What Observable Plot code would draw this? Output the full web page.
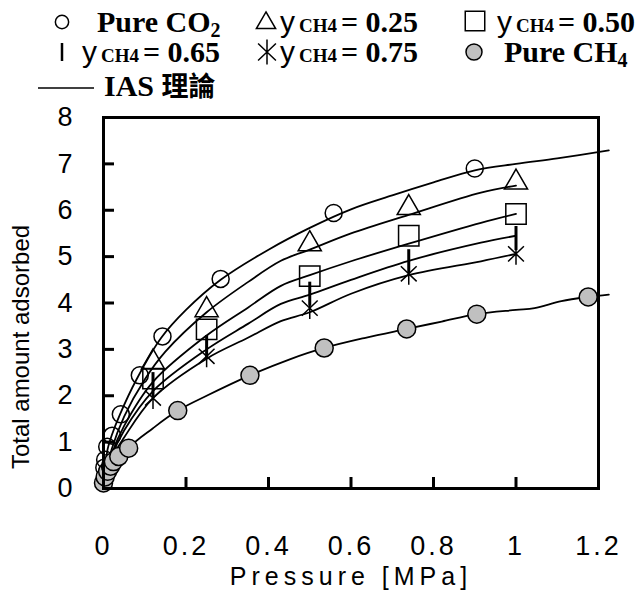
<!DOCTYPE html>
<html><head><meta charset="utf-8">
<script src="https://cdn.jsdelivr.net/npm/d3@7"></script>
<script src="https://cdn.jsdelivr.net/npm/@observablehq/plot@0.6"></script>
<style>
body{margin:0;background:#fff;}
#legend{position:relative;width:644px;height:100px;overflow:visible;font-family:"Liberation Serif","Times New Roman",serif;font-weight:bold;font-size:30px;color:#000;}
#legend .item{position:absolute;white-space:nowrap;line-height:28px;height:28px;}
#legend .y{font-family:"Liberation Sans",Arial,sans-serif;font-weight:normal;font-size:30px;margin-right:4px;}
#legend .sub{font-size:19px;margin-right:4px;}
#legend .ss{font-size:20px;position:relative;top:5px;}
#legend svg{position:absolute;left:0;top:0;}
</style></head><body>
<div id="legend"></div>
<div id="chart"></div>
<script>
// ---- data ----
const xTicks = [0, 0.2, 0.4, 0.6, 0.8, 1, 1.2];
const yTicks = [0, 1, 2, 3, 4, 5, 6, 7, 8];
const xLabel = "Pressure [MPa]";
const yLabel = "Total amount adsorbed";

const co2P = [0.002, 0.004, 0.009, 0.021, 0.042, 0.088, 0.143, 0.284, 0.558, 0.90];
const co2V = [0.45, 0.62, 0.9, 1.14, 1.6, 2.44, 3.28, 4.52, 5.94, 6.9];

const ch4P = [0.0, 0.004, 0.01, 0.017, 0.024, 0.037, 0.061, 0.18, 0.355, 0.535, 0.735, 0.905, 1.175];
const ch4V = [0.12, 0.25, 0.37, 0.48, 0.58, 0.69, 0.87, 1.68, 2.44, 3.03, 3.44, 3.76, 4.13];

const mixP = [0.12, 0.25, 0.5, 0.74, 1.0];
const mix25V = [2.72, 3.85, 5.27, 6.05, 6.6];
const mix50V = [2.37, 3.43, 4.58, 5.45, 5.92];
const mix65V = [2.25, 3.05, 4.2, 4.9, 5.4];
const mix75V = [1.95, 2.85, 3.89, 4.63, 5.06];

// IAS theory curves [pressure, amount]
const iasCO2 = [[0,0.1],[0.005,0.5],[0.01,0.85],[0.02,1.15],[0.04,1.6],[0.08,2.35],[0.14,3.25],[0.2,3.85],[0.284,4.5],[0.4,5.15],[0.5,5.62],[0.6,6.02],[0.7,6.32],[0.8,6.6],[0.9,6.86],[1.0,7.0],[1.1,7.12],[1.225,7.29]];
const ias25 = [[0,0.1],[0.02,0.85],[0.05,1.55],[0.1,2.35],[0.15,2.95],[0.25,3.8],[0.35,4.45],[0.43,4.91],[0.5,5.15],[0.6,5.5],[0.74,5.9],[0.915,6.38],[1.0,6.53]];
const ias50 = [[0,0.1],[0.02,0.75],[0.05,1.35],[0.12,2.3],[0.25,3.3],[0.35,3.9],[0.43,4.37],[0.5,4.6],[0.6,4.9],[0.74,5.28],[0.915,5.73],[1.0,5.92]];
const ias65 = [[0,0.1],[0.02,0.7],[0.05,1.25],[0.12,2.1],[0.25,3.0],[0.35,3.55],[0.43,3.98],[0.5,4.18],[0.6,4.5],[0.74,4.91],[0.915,5.3],[1.0,5.45]];
const ias75 = [[0,0.1],[0.02,0.65],[0.05,1.1],[0.12,1.95],[0.25,2.8],[0.35,3.25],[0.43,3.61],[0.5,3.8],[0.6,4.2],[0.74,4.6],[0.915,4.9],[1.0,5.06]];
const iasCH4 = [[0,0.05],[0.061,0.87],[0.12,1.3],[0.18,1.68],[0.25,2.0],[0.355,2.44],[0.45,2.78],[0.535,3.03],[0.635,3.25],[0.735,3.44],[0.82,3.6],[0.905,3.76],[1.0,3.85],[1.045,3.89],[1.11,4.04],[1.175,4.13],[1.225,4.18]];

// ---- helpers ----
const pts = (P, V) => P.map((p, i) => ({p, v: V[i]}));
const vbar = {draw(ctx, size) { const h = Math.sqrt(size) * 0.68; ctx.moveTo(0, -h); ctx.lineTo(0, h); }};
const star = {draw(ctx, size) {
  const L = Math.sqrt(size) * 0.62, dx = L * 0.72, dy = L * 0.69;
  ctx.moveTo(0, -L); ctx.lineTo(0, L);
  ctx.moveTo(-dx, -dy); ctx.lineTo(dx, dy);
  ctx.moveTo(-dx, dy); ctx.lineTo(dx, -dy);
}};
const sans = '"Liberation Sans", Arial, sans-serif';
const lineOpts = {x: d => d[0], y: d => d[1], curve: "catmull-rom", stroke: "black", strokeWidth: 1.8};
const plotH = 494, mT = 17, mB = 106, mL = 103, mR = 46;

const chart = Plot.plot({
  width: 644, height: plotH,
  marginTop: mT, marginBottom: mB, marginLeft: mL, marginRight: mR,
  style: {fontFamily: sans, background: "white", overflow: "visible"},
  x: {domain: [0, 1.2]},
  y: {domain: [0, 8]},
  marks: [
    Plot.line(iasCO2, lineOpts),
    Plot.line(ias25, lineOpts),
    Plot.line(ias50, lineOpts),
    Plot.line(ias65, lineOpts),
    Plot.line(ias75, lineOpts),
    Plot.line(iasCH4, lineOpts),
    Plot.dot(pts(co2P, co2V), {x: "p", y: "v", r: 8.5, stroke: "black", strokeWidth: 1.5, fill: "none"}),
    Plot.dot(pts(mixP, mix25V), {x: "p", y: "v", r: 8.6, symbol: "triangle", stroke: "black", strokeWidth: 1.5, fill: "none"}),
    Plot.dot(pts(mixP, mix50V), {x: "p", y: "v", r: 11.5, symbol: "square", stroke: "black", strokeWidth: 1.5, fill: "none"}),
    Plot.dot(pts(mixP, mix65V), {x: "p", y: "v", r: 10, symbol: vbar, stroke: "black", strokeWidth: 3, fill: "none"}),
    Plot.dot(pts(mixP, mix75V), {x: "p", y: "v", r: 10, symbol: star, stroke: "black", strokeWidth: 1.5, fill: "none"}),
    Plot.dot(pts(ch4P, ch4V), {x: "p", y: "v", r: 9, stroke: "black", strokeWidth: 1.5, fill: "#c0c0c0"}),
    Plot.frame({stroke: "black", strokeWidth: 3}),
    Plot.tickY(yTicks.slice(1, -1), {y: d => d, insetRight: 644 - mL - mR - 11, stroke: "black", strokeWidth: 3}),
    Plot.tickX(xTicks.slice(1, -1), {x: d => d, insetTop: plotH - mT - mB - 11, stroke: "black", strokeWidth: 3}),
    Plot.axisY(yTicks, {tickSize: 0, tickPadding: 31, fontSize: 27, label: null, tickFormat: d => String(d)}),
    Plot.axisX(xTicks, {tickSize: 0, tickPadding: 47, fontSize: 27, label: null, tickFormat: d => String(d)}),
    Plot.text([yLabel], {text: d => d, frameAnchor: "left", textAnchor: "middle", rotate: -90, dx: -82, dy: 44, fontSize: 24}),
    Plot.text([xLabel], {text: d => d, frameAnchor: "bottom", textAnchor: "middle", dy: 96, fontSize: 25})
  ]
});
chart.querySelectorAll('[aria-label="x-axis tick label"] text').forEach(t => t.style.letterSpacing = "3px");
document.getElementById("chart").appendChild(chart);
chart.querySelectorAll('text').forEach(t => { if (t.textContent === xLabel) t.style.letterSpacing = "5px"; });

// ---- legend (HTML text + symbol icons) ----
const legend = document.getElementById("legend");
const mix = v => '<span class="y">y</span><span class="sub">CH4</span>= ' + v;
const items = [
  {left: 97, top: 8, html: 'Pure CO<span class="ss">2</span>'},
  {left: 280, top: 8, html: mix("0.25")},
  {left: 497, top: 8, html: mix("0.50")},
  {left: 82, top: 38, html: mix("0.65")},
  {left: 280, top: 38, html: mix("0.75")},
  {left: 504, top: 38, html: 'Pure CH<span class="ss">4</span>'},
  {left: 104, top: 71, html: 'IAS <span style="font-family:\'Noto Sans CJK TC\';font-weight:bold;font-size:27px">理論</span>'}
];
items.forEach(it => { const d = document.createElement("div"); d.className = "item"; d.style.left = it.left + "px"; d.style.top = it.top + "px"; d.innerHTML = it.html; legend.appendChild(d); });
const svg = d3.select(legend).append("svg").attr("width", 644).attr("height", 100);
const sym = (type, size, x, y, fill, sw) => svg.append("path").attr("d", d3.symbol(type, size)()).attr("transform", `translate(${x},${y})`).attr("fill", fill).attr("stroke", "black").attr("stroke-width", sw);
sym(d3.symbolCircle, Math.PI * 44, 62, 22, "none", 1.5);
sym(d3.symbolTriangle, 160, 266, 23, "none", 1.5);
sym(d3.symbolSquare, 380, 475, 21, "none", 1.5);
sym(vbar, Math.PI * 56, 62, 52, "none", 2.5);
sym(star, 400, 267, 52, "none", 1.5);
sym(d3.symbolCircle, Math.PI * 64, 474, 52, "#c0c0c0", 1.5);
svg.append("line").attr("x1", 38).attr("x2", 94).attr("y1", 88).attr("y2", 88).attr("stroke", "black").attr("stroke-width", 1.5);
</script>
</body></html>
